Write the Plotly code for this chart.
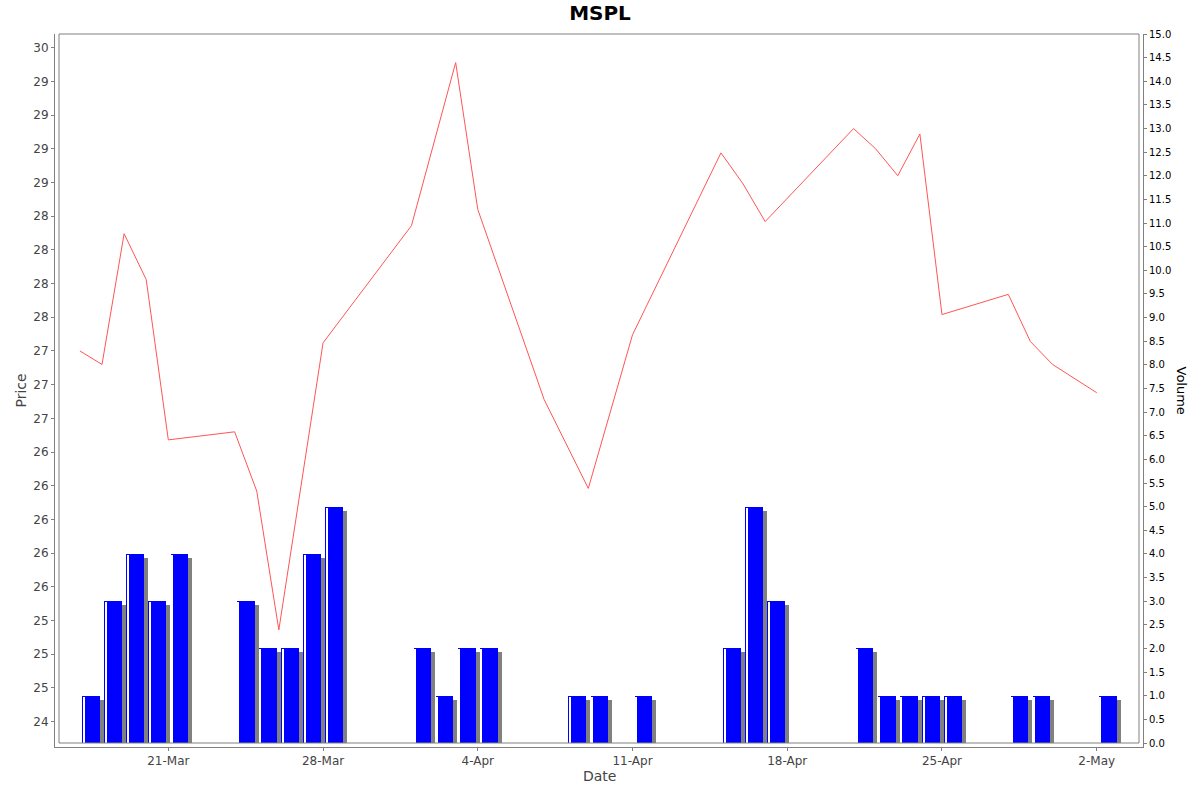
import plotly.graph_objects as go

# Daily volume (bars) and closing price (line) for MSPL
vol_dates = ['2016-03-17', '2016-03-18', '2016-03-19', '2016-03-20', '2016-03-21',
             '2016-03-24', '2016-03-25', '2016-03-26', '2016-03-27', '2016-03-28',
             '2016-04-01', '2016-04-02', '2016-04-03', '2016-04-04',
             '2016-04-08', '2016-04-09', '2016-04-11',
             '2016-04-15', '2016-04-16', '2016-04-17',
             '2016-04-21', '2016-04-22', '2016-04-23', '2016-04-24', '2016-04-25',
             '2016-04-28', '2016-04-29', '2016-05-02']
volumes = [1, 3, 4, 3, 4,
           3, 2, 2, 4, 5,
           2, 1, 2, 2,
           1, 1, 1,
           2, 5, 3,
           2, 1, 1, 1, 1,
           1, 1, 1]

price_dates = ['2016-03-17', '2016-03-18', '2016-03-19', '2016-03-20', '2016-03-21',
               '2016-03-24', '2016-03-25', '2016-03-26', '2016-03-28',
               '2016-04-01', '2016-04-03', '2016-04-04', '2016-04-07', '2016-04-09',
               '2016-04-11', '2016-04-15', '2016-04-16', '2016-04-17',
               '2016-04-21', '2016-04-22', '2016-04-23', '2016-04-24', '2016-04-25',
               '2016-04-28', '2016-04-29', '2016-04-30', '2016-05-02']
prices = [27.25, 27.15, 28.12, 27.78, 26.59,
          26.65, 26.21, 25.18, 27.31,
          28.18, 29.39, 28.30, 26.89, 26.23,
          27.37, 28.72, 28.49, 28.21,
          28.90, 28.75, 28.55, 28.86, 27.52,
          27.67, 27.32, 27.15, 26.94]

# price axis ticks (labels are rounded like the original chart)
price_ticks = [24.5 + 0.25 * i for i in range(21)]
price_labels = ['24', '25', '25', '25', '26', '26', '26', '26', '26', '27', '27',
                '27', '28', '28', '28', '28', '29', '29', '29', '29', '30']
vol_ticks = [0.5 * i for i in range(31)]
vol_labels = ['%.1f' % v for v in vol_ticks]

DAY = 86400000
GREY = '#808080'
W, H = 1200, 792
PW, PH = 1088, 713  # plot area in px

fig = go.Figure()

# shadow behind each bar (4px right / 4px down)
fig.add_trace(go.Bar(x=vol_dates, y=[v - 0.085 for v in volumes], yaxis='y',
                     offset=0.28 * DAY, width=0.8 * DAY,
                     marker=dict(color='#808080', line=dict(width=0)),
                     showlegend=False, hoverinfo='skip'))
fig.add_trace(go.Bar(x=vol_dates, y=volumes, yaxis='y', name='Volume',
                     offset=0.1 * DAY, width=0.8 * DAY,
                     marker=dict(color='#0000ff', line=dict(width=0)),
                     showlegend=False))
# thin light stripe near the left edge
fig.add_trace(go.Bar(x=vol_dates, y=[v - 0.02 for v in volumes], yaxis='y',
                     offset=0.145 * DAY, width=0.05 * DAY,
                     marker=dict(color='#ffffff', line=dict(width=0)),
                     showlegend=False, hoverinfo='skip'))

fig.add_trace(go.Scatter(x=price_dates, y=prices, yaxis='y2', mode='lines',
                         name='Price', line=dict(color='#ff5555', width=1),
                         showlegend=False))

fig.update_layout(
    width=W, height=H,
    margin=dict(l=55, r=57, t=34, b=45),
    paper_bgcolor='white', plot_bgcolor='white',
    barmode='overlay', bargap=0,
    font=dict(family='DejaVu Sans', color='#444444', size=12),
    title=dict(text='<b>MSPL</b>', x=0.5, xanchor='center', y=1 - 13 / H, yanchor='middle',
               font=dict(family='DejaVu Sans', size=20, color='black')),
    xaxis=dict(type='date', range=['2016-03-15 20:58', '2016-05-04 02:15'],
               tick0='2016-03-21', dtick=7 * DAY, tickformat='%-d-%b',
               showgrid=False, zeroline=False,
               showline=True, linecolor=GREY, linewidth=1,
               ticks='outside', ticklen=3, tickcolor=GREY,
               tickfont=dict(size=12, color='#444444')),
    yaxis=dict(side='right', range=[-0.0846, 15.0],
               tickvals=vol_ticks, ticktext=vol_labels,
               showgrid=False, zeroline=False,
               showline=True, linecolor=GREY, linewidth=1,
               ticks='outside', ticklen=3, tickcolor=GREY,
               tickfont=dict(size=10, color='black')),
    yaxis2=dict(side='left', overlaying='y', range=[24.311, 29.602],
                tickvals=price_ticks, ticktext=price_labels,
                showgrid=False, zeroline=False,
                showline=True, linecolor=GREY, linewidth=1,
                ticks='outside', ticklen=3, tickcolor=GREY,
                tickfont=dict(size=12, color='#444444')),
    shapes=[dict(type='rect', xref='paper', yref='paper',
                 x0=4 / PW, x1=1 - 4 / PW, y0=4 / PH, y1=1,
                 line=dict(color=GREY, width=1), layer='above')],
    annotations=[
        dict(text='Price', xref='paper', yref='paper', x=-35 / PW, y=0.5,
             textangle=-90, showarrow=False, xanchor='center', yanchor='middle',
             font=dict(size=14, color='#444444')),
        dict(text='Volume', xref='paper', yref='paper', x=1 + 38 / PW, y=0.5,
             textangle=90, showarrow=False, xanchor='center', yanchor='middle',
             font=dict(size=13, color='black')),
        dict(text='Date', xref='paper', yref='paper', x=0.5, y=-29 / PH,
             showarrow=False, xanchor='center', yanchor='middle',
             font=dict(size=14, color='#444444')),
    ],
)

# drop the default page margin so the figure sits at the window's corner
fig.write_html("out.html", config={'displayModeBar': False},
               post_script="document.body.style.margin = '0px';")
